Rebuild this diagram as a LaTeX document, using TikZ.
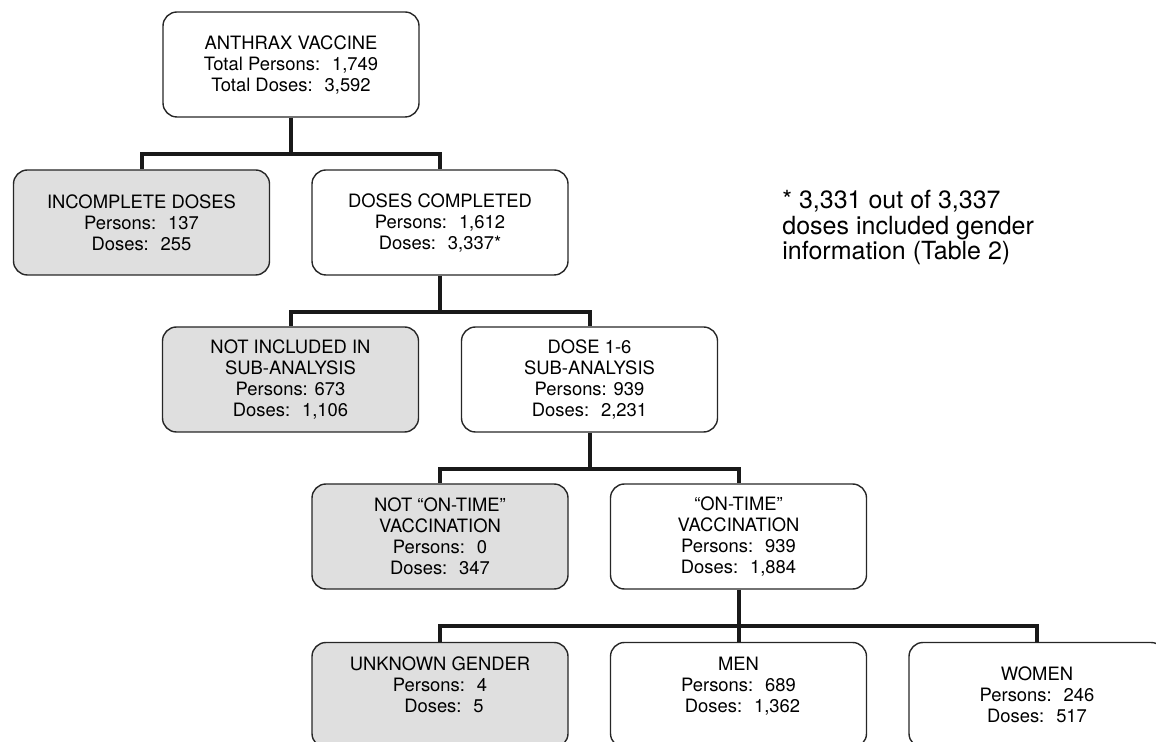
\documentclass[tikz,border=0pt]{standalone}
\usepackage{fontspec}
\setmainfont{TeX Gyre Heros}
\definecolor{boxgray}{RGB}{223,223,223}

\begin{document}
\begin{tikzpicture}[x=0.5pt,y=-0.5pt,
    box/.style={draw=black!85,line width=0.7pt,rounded corners=7pt,
      minimum width=128pt,minimum height=52.5pt,inner sep=0pt,align=center,
      font=\fontsize{9.2}{10.5}\selectfont},
    excl/.style={box,fill=boxgray},
    link/.style={line width=2pt,black!90}]
  \path[use as bounding box,clip] (0,0) rectangle (1156,742);
  % boxes
  \node[box] (total) at (291,64.5) {ANTHRAX VACCINE\\Total Persons:~ 1,749\\Total Doses:~ 3,592};
  \node[excl] (incomplete) at (141.5,222.5) {INCOMPLETE DOSES\\Persons:~ 137\\Doses:~ 255};
  \node[box] (completed) at (440,222.5) {DOSES COMPLETED\\Persons:~ 1,612\\Doses:~ 3,337*};
  \node[excl] (notincl) at (290.5,379.5) {NOT INCLUDED IN\\SUB-ANALYSIS\\Persons: 673\\Doses:~ 1,106};
  \node[box] (subanal) at (589.5,379.5) {DOSE 1-6\\SUB-ANALYSIS\\Persons: 939\\Doses:~ 2,231};
  \node[excl] (nottime) at (440,536.5) {NOT “ON-TIME”\\VACCINATION\\Persons:~ 0\\Doses:~ 347};
  \node[box] (ontime) at (738.5,536.5) {“ON-TIME”\\VACCINATION\\Persons:~ 939\\Doses:~ 1,884};
  \node[excl] (unknown) at (440,695) {UNKNOWN GENDER\\Persons:~ 4\\\hspace*{4pt}Doses:~ 5\\\mbox{}};
  \node[box] (men) at (738.5,695) {MEN\\Persons:~ 689\\\hspace*{4pt}Doses:~ 1,362\\\mbox{}};
  \node[box] (women) at (1037,695) {WOMEN\\Persons:~ 246\\Doses:~ 517};
  % connectors
  \draw[link] (total.south) -- ++(0,36) coordinate (j1) -| (incomplete.north);
  \draw[link] (j1) -| (completed.north);
  \draw[link] (completed.south) -- ++(0,36) coordinate (j2) -| (notincl.north);
  \draw[link] (j2) -| (subanal.north);
  \draw[link] (subanal.south) -- ++(0,36) coordinate (j3) -| (nottime.north);
  \draw[link] (j3) -| (ontime.north);
  \draw[link] (ontime.south) -- ++(0,36) coordinate (j4) -| (unknown.north);
  \draw[link] (j4) -- (men.north);
  \draw[link] (j4) -| (women.north);
  % note
  \node[anchor=north west,inner sep=0pt,align=left,font=\fontsize{12.5}{12.75}\selectfont]
    (note) at (782,190) {* 3,331 out of 3,337\\doses included gender\\information (Table 2)};
\end{tikzpicture}
\end{document}
